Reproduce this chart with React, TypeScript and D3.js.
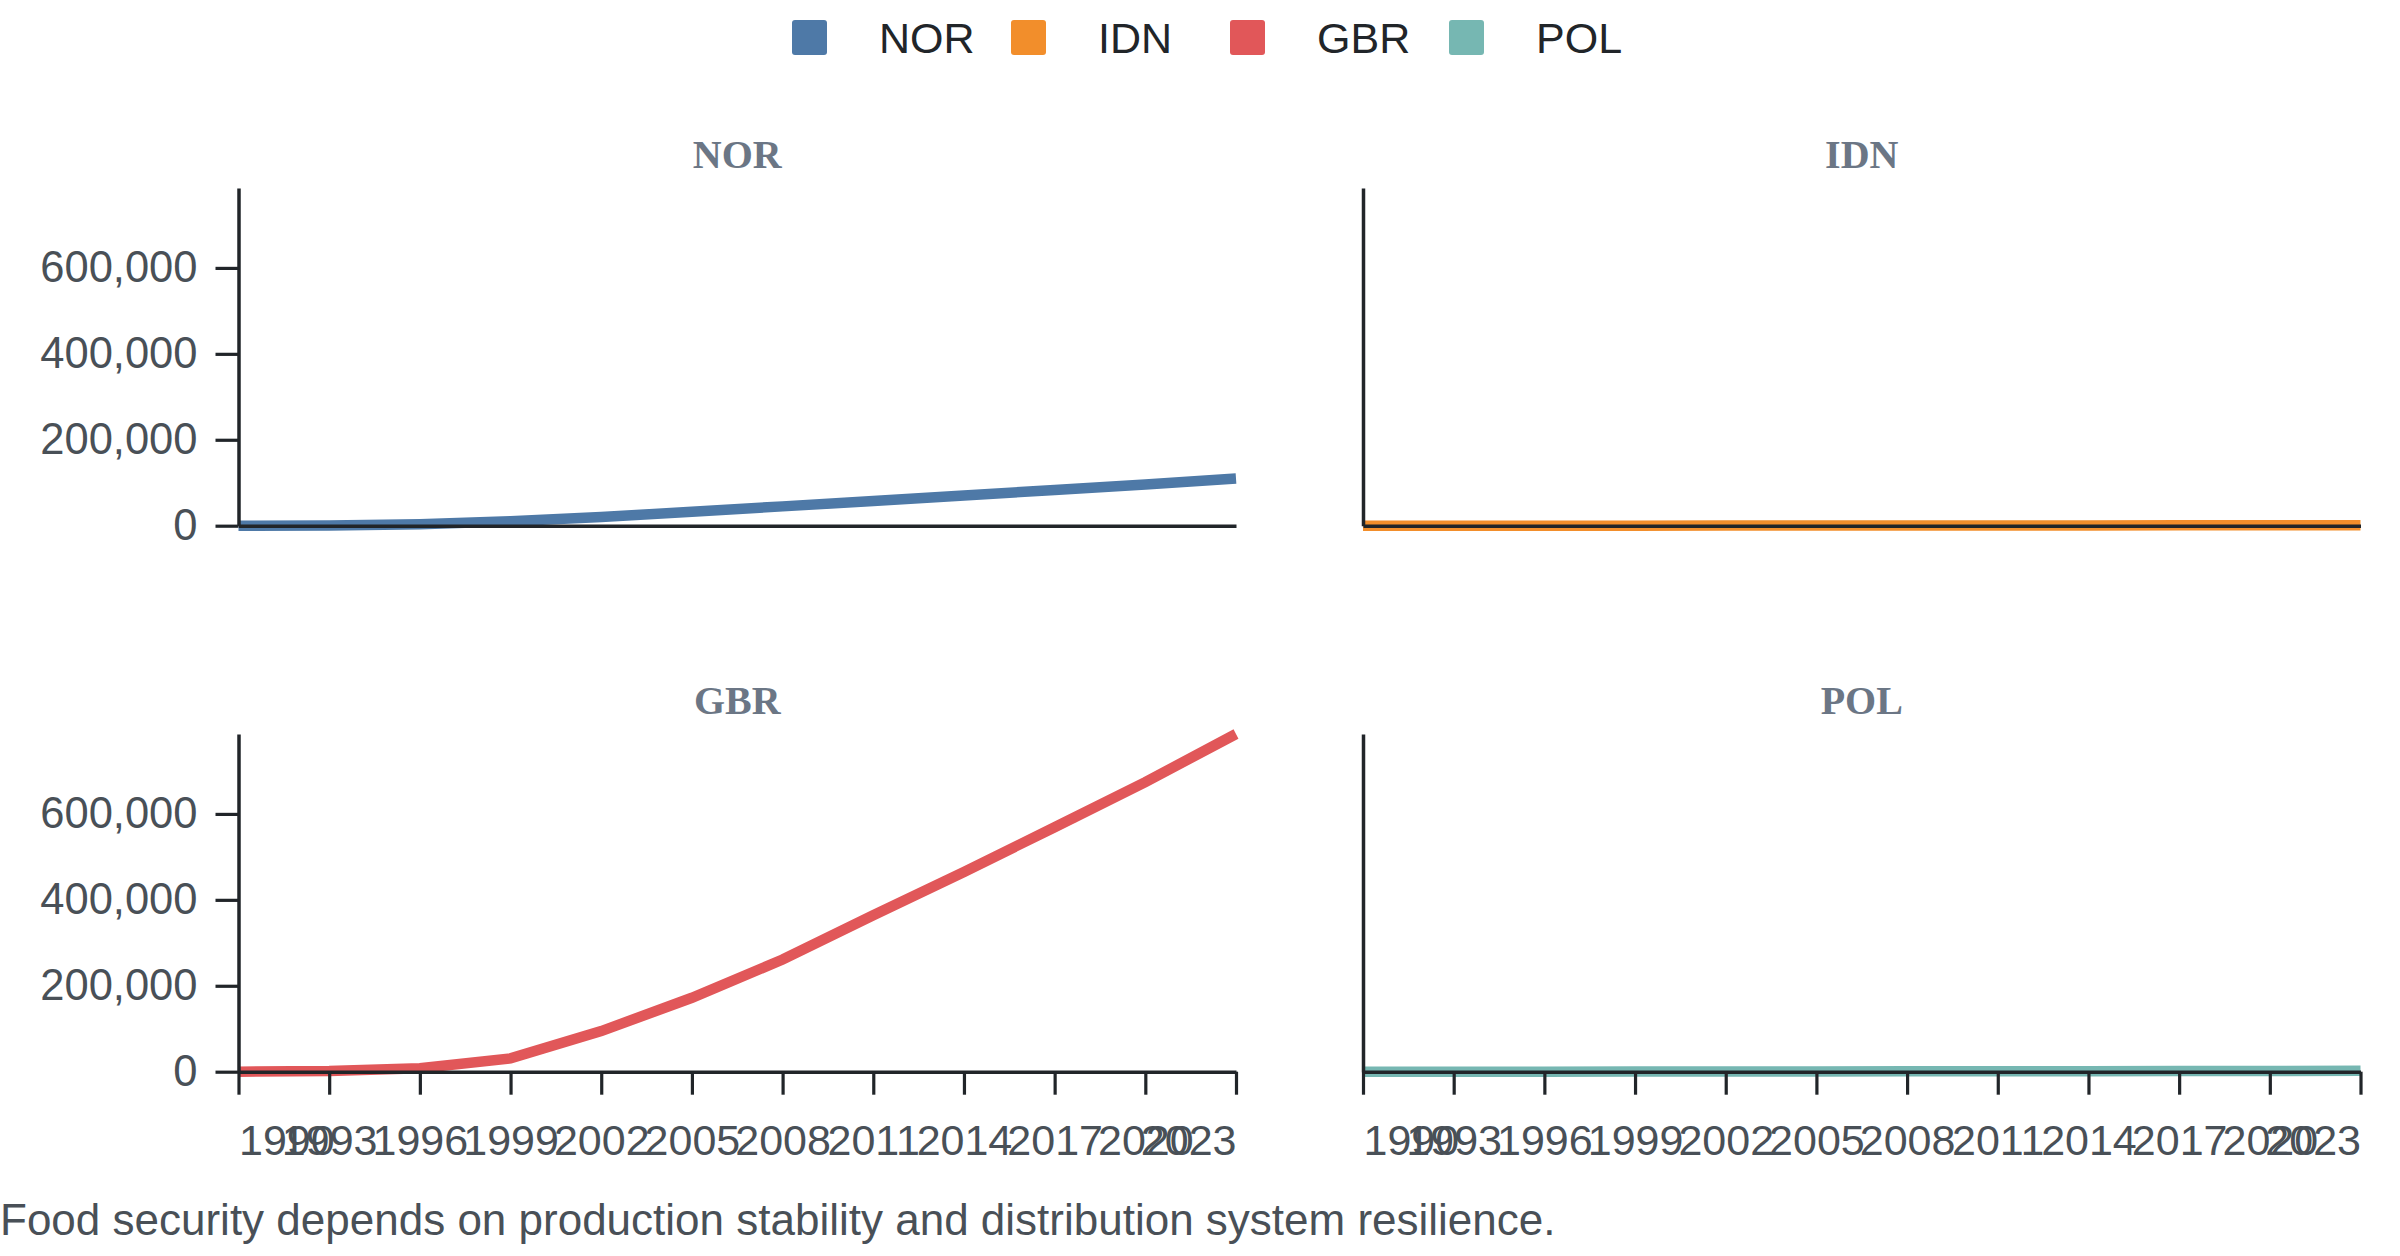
import React, { useEffect, useRef } from 'react';
import * as d3 from 'd3';

// years sampled every 3 years, one value per year for each country
const years = [1990, 1993, 1996, 1999, 2002, 2005, 2008, 2011, 2014, 2017, 2020, 2023];
const countries = ['NOR', 'IDN', 'GBR', 'POL'];
const norValues = [0, 600, 3500, 10500, 20000, 32500, 45000, 57500, 70500, 83000, 96000, 110000];
const idnValues = [0, 20, 60, 120, 200, 300, 420, 550, 700, 850, 1000, 1200];
const gbrValues = [0, 1500, 8000, 31000, 94500, 172000, 261000, 364000, 465000, 569000, 674000, 786000];
const polValues = [0, 50, 150, 300, 450, 650, 850, 1050, 1300, 1550, 1800, 2100];
const yTickValues = [0, 200000, 400000, 600000];
const palette = ['#4e79a7', '#f28e2b', '#e15759', '#76b7b2'];
const caption = 'Food security depends on production stability and distribution system resilience.';

const seriesValues = [norValues, idnValues, gbrValues, polValues];

interface Point {
  year: number;
  value: number;
}

const WIDTH = 2400;
const HEIGHT = 1256;
const plotW = 997.5;
const plotH = 337.7;
const colX = [238.5, 1363];
const rowY = [188, 734];

const sans = '"Liberation Sans", Arial, sans-serif';
const serif = '"Liberation Serif", "Times New Roman", serif';
const axisColor = '#212529';
const labelColor = '#495057';

const yMax = d3.max(seriesValues.flat())!;

const Panel: React.FC<{ index: number }> = ({ index }) => {
  const xAxisRef = useRef<SVGGElement | null>(null);
  const yAxisRef = useRef<SVGGElement | null>(null);
  const col = index % 2;
  const row = Math.floor(index / 2);

  const x = d3
    .scaleLinear()
    .domain(d3.extent(years) as [number, number])
    .range([0, plotW]);
  const y = d3.scaleLinear().domain([0, yMax]).range([plotH, 0]);

  const data: Point[] = years.map((year, i) => ({ year, value: seriesValues[index][i] }));
  const valueline = d3
    .line<Point>()
    .x((d) => x(d.year))
    .y((d) => y(d.value));

  useEffect(() => {
    // x축
    const gx = d3.select(xAxisRef.current!);
    gx.selectAll('*').remove();
    gx.call(
      d3
        .axisBottom(x)
        .tickValues(row === 1 ? years : [])
        .tickSize(23)
        .tickSizeOuter(0)
        .tickPadding(30)
        .tickFormat(d3.format('d')),
    );
    gx.select('.domain').attr('stroke', axisColor).attr('stroke-width', 3.5);
    gx.selectAll('.tick line').attr('stroke', axisColor).attr('stroke-width', 3.2);
    const xt = gx.selectAll<SVGTextElement, number>('.tick text');
    const n = xt.size();
    xt.attr('fill', labelColor)
      .attr('font-size', 43)
      .attr('font-family', sans)
      .attr('text-anchor', (_, i) => (i === 0 ? 'start' : i === n - 1 ? 'end' : 'middle'));

    // y축
    const gy = d3.select(yAxisRef.current!);
    gy.selectAll('*').remove();
    gy.call(
      d3
        .axisLeft(y)
        .tickValues(col === 0 ? yTickValues : [])
        .tickSize(23)
        .tickSizeOuter(0)
        .tickPadding(18)
        .tickFormat(d3.format(',')),
    );
    gy.select('.domain').attr('stroke', axisColor).attr('stroke-width', 3.5);
    gy.selectAll('.tick line').attr('stroke', axisColor).attr('stroke-width', 3.2);
    gy.selectAll('.tick text')
      .attr('fill', labelColor)
      .attr('font-size', 43.5)
      .attr('font-family', sans);
  });

  return (
    <g transform={`translate(${colX[col]},${rowY[row]})`}>
      <text
        x={plotW / 2}
        y={-19.7}
        textAnchor="middle"
        fontFamily={serif}
        fontWeight="bold"
        fontSize={40}
        fill="#6b7685"
      >
        {countries[index]}
      </text>
      <path d={valueline(data) ?? ''} fill="none" stroke={palette[index]} strokeWidth={10.5} />
      <g ref={xAxisRef} transform={`translate(0,${plotH})`} />
      <g ref={yAxisRef} />
    </g>
  );
};

const App: React.FC = () => {
  const legendX = d3.scalePoint<string>().domain(countries).range([792, 1449]);

  return (
    <svg
      width={WIDTH}
      height={HEIGHT}
      style={{ position: 'absolute', left: 0, top: 0, background: '#fff' }}
    >
      {/* 범례 */}
      <g>
        {countries.map((c, i) => (
          <g key={c} transform={`translate(${legendX(c)},20)`}>
            <rect width={35} height={35} rx={3} fill={palette[i]} />
            <text x={87} y={33} fontFamily={sans} fontSize={43} fill="#212529">
              {c}
            </text>
          </g>
        ))}
      </g>
      {countries.map((c, i) => (
        <Panel key={c} index={i} />
      ))}
      <text x={0} y={1235} fontFamily={sans} fontSize={44} fill={labelColor}>
        {caption}
      </text>
    </svg>
  );
};

export default App;
